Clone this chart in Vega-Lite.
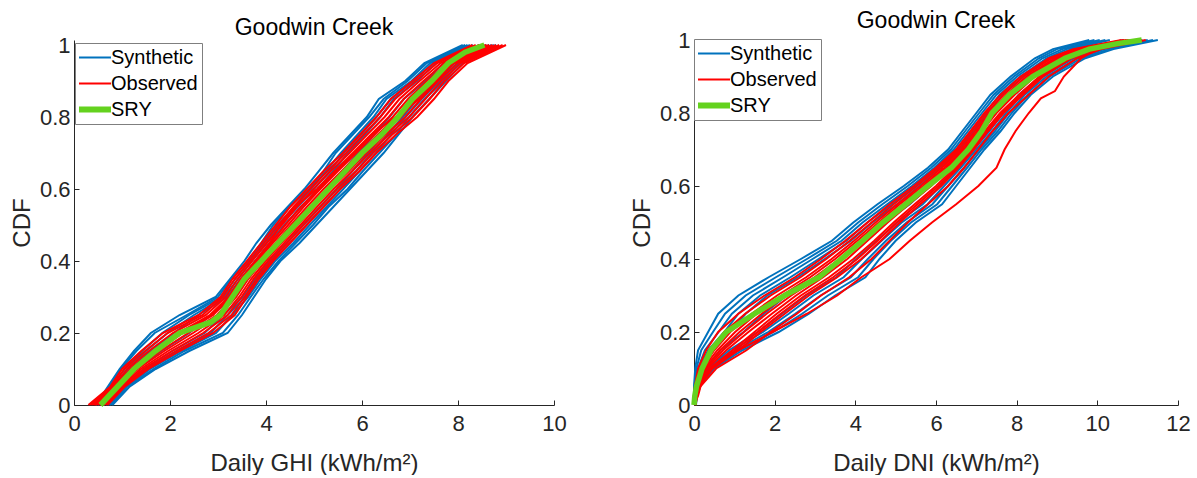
{
"$schema": "https://vega.github.io/schema/vega-lite/v6.json",
"background": "white",
"padding": {"left": 10, "top": 10, "right": 5, "bottom": 0},
"spacing": 63,
"config": {
  "font": "Liberation Sans",
  "view": {"stroke": null},
  "axis": {"grid": false, "domainColor": "#262626", "tickColor": "#262626", "labelColor": "#262626", "titleColor": "#262626", "labelFont": "Liberation Sans", "titleFont": "Liberation Sans", "labelFontSize": 22, "titleFontSize": 24, "titleFontWeight": "normal", "tickSize": -5, "domainWidth": 1, "tickWidth": 1, "labelFlush": false, "labelOverlap": false},
  "title": {"fontSize": 23, "fontWeight": "normal", "color": "#000000", "font": "Liberation Sans", "offset": -4},
  "legend": {"title": null, "orient": "none", "fillColor": "white", "strokeColor": "#7f7f7f", "padding": 4, "symbolType": "stroke", "symbolSize": 1024, "symbolStrokeWidth": 2, "labelFontSize": 20, "labelFont": "Liberation Sans", "labelColor": "#000000", "labelOffset": 3, "rowPadding": 5, "clipHeight": 21}
},
"resolve": {"scale": {"color": "independent"}, "legend": {"color": "independent"}},
"hconcat": [
{
  "width": 480, "height": 365,
  "title": {"text": "Goodwin Creek", "dy": 2},
  "encoding": {
    "x": {"field": "x", "type": "quantitative", "scale": {"domain": [0, 10], "nice": false}, "axis": {"values": [0,2,4,6,8,10], "title": "Daily GHI (kWh/m²)", "labelPadding": 13, "titlePadding": 17}},
    "y": {"field": "y", "type": "quantitative", "scale": {"domain": [0, 1.0139], "nice": false}, "axis": {"values": [0,0.2,0.4,0.6,0.8,1], "format": "~g", "title": "CDF", "labelPadding": 9, "titlePadding": 5}},
    "detail": {"field": "k"},
    "order": {"field": "y"}
  },
  "layer": [
    {"data": {"values": [
{"k":"b1","x":0.45,"y":0},{"k":"b1","x":0.7,"y":0.05},{"k":"b1","x":0.95,"y":0.1},{"k":"b1","x":1.25,"y":0.15},{"k":"b1","x":1.6,"y":0.2},{"k":"b1","x":2.2,"y":0.25},{"k":"b1","x":2.95,"y":0.3},{"k":"b1","x":3.25,"y":0.35},{"k":"b1","x":3.55,"y":0.4},{"k":"b1","x":3.8,"y":0.45},{"k":"b1","x":4.1,"y":0.5},{"k":"b1","x":4.45,"y":0.55},{"k":"b1","x":4.8,"y":0.6},{"k":"b1","x":5.1,"y":0.65},{"k":"b1","x":5.4,"y":0.7},{"k":"b1","x":5.75,"y":0.75},{"k":"b1","x":6.1,"y":0.8},{"k":"b1","x":6.35,"y":0.85},{"k":"b1","x":6.9,"y":0.9},{"k":"b1","x":7.3,"y":0.95},{"k":"b1","x":8.1,"y":1},
{"k":"b2","x":0.5,"y":0},{"k":"b2","x":0.77,"y":0.05},{"k":"b2","x":1.06,"y":0.1},{"k":"b2","x":1.42,"y":0.15},{"k":"b2","x":1.84,"y":0.2},{"k":"b2","x":2.4,"y":0.25},{"k":"b2","x":3.07,"y":0.3},{"k":"b2","x":3.36,"y":0.35},{"k":"b2","x":3.66,"y":0.4},{"k":"b2","x":3.94,"y":0.45},{"k":"b2","x":4.24,"y":0.5},{"k":"b2","x":4.59,"y":0.55},{"k":"b2","x":4.94,"y":0.6},{"k":"b2","x":5.25,"y":0.65},{"k":"b2","x":5.56,"y":0.7},{"k":"b2","x":5.9,"y":0.75},{"k":"b2","x":6.24,"y":0.8},{"k":"b2","x":6.51,"y":0.85},{"k":"b2","x":7.03,"y":0.9},{"k":"b2","x":7.42,"y":0.95},{"k":"b2","x":8.2,"y":1},
{"k":"b3","x":0.55,"y":0},{"k":"b3","x":0.83,"y":0.05},{"k":"b3","x":1.17,"y":0.1},{"k":"b3","x":1.6,"y":0.15},{"k":"b3","x":2.08,"y":0.2},{"k":"b3","x":2.59,"y":0.25},{"k":"b3","x":3.19,"y":0.3},{"k":"b3","x":3.47,"y":0.35},{"k":"b3","x":3.77,"y":0.4},{"k":"b3","x":4.07,"y":0.45},{"k":"b3","x":4.38,"y":0.5},{"k":"b3","x":4.73,"y":0.55},{"k":"b3","x":5.08,"y":0.6},{"k":"b3","x":5.4,"y":0.65},{"k":"b3","x":5.71,"y":0.7},{"k":"b3","x":6.05,"y":0.75},{"k":"b3","x":6.38,"y":0.8},{"k":"b3","x":6.66,"y":0.85},{"k":"b3","x":7.15,"y":0.9},{"k":"b3","x":7.54,"y":0.95},{"k":"b3","x":8.31,"y":1},
{"k":"b4","x":0.62,"y":0},{"k":"b4","x":0.92,"y":0.05},{"k":"b4","x":1.32,"y":0.1},{"k":"b4","x":1.82,"y":0.15},{"k":"b4","x":2.4,"y":0.2},{"k":"b4","x":2.85,"y":0.25},{"k":"b4","x":3.35,"y":0.3},{"k":"b4","x":3.62,"y":0.35},{"k":"b4","x":3.92,"y":0.4},{"k":"b4","x":4.25,"y":0.45},{"k":"b4","x":4.57,"y":0.5},{"k":"b4","x":4.92,"y":0.55},{"k":"b4","x":5.27,"y":0.6},{"k":"b4","x":5.6,"y":0.65},{"k":"b4","x":5.92,"y":0.7},{"k":"b4","x":6.25,"y":0.75},{"k":"b4","x":6.57,"y":0.8},{"k":"b4","x":6.87,"y":0.85},{"k":"b4","x":7.32,"y":0.9},{"k":"b4","x":7.7,"y":0.95},{"k":"b4","x":8.45,"y":1},
{"k":"b5","x":0.69,"y":0},{"k":"b5","x":1.01,"y":0.05},{"k":"b5","x":1.47,"y":0.1},{"k":"b5","x":2.05,"y":0.15},{"k":"b5","x":2.72,"y":0.2},{"k":"b5","x":3.11,"y":0.25},{"k":"b5","x":3.51,"y":0.3},{"k":"b5","x":3.77,"y":0.35},{"k":"b5","x":4.07,"y":0.4},{"k":"b5","x":4.43,"y":0.45},{"k":"b5","x":4.77,"y":0.5},{"k":"b5","x":5.12,"y":0.55},{"k":"b5","x":5.47,"y":0.6},{"k":"b5","x":5.8,"y":0.65},{"k":"b5","x":6.13,"y":0.7},{"k":"b5","x":6.45,"y":0.75},{"k":"b5","x":6.77,"y":0.8},{"k":"b5","x":7.08,"y":0.85},{"k":"b5","x":7.5,"y":0.9},{"k":"b5","x":7.86,"y":0.95},{"k":"b5","x":8.59,"y":1},
{"k":"b6","x":0.75,"y":0},{"k":"b6","x":1.08,"y":0.05},{"k":"b6","x":1.59,"y":0.1},{"k":"b6","x":2.23,"y":0.15},{"k":"b6","x":2.96,"y":0.2},{"k":"b6","x":3.3,"y":0.25},{"k":"b6","x":3.63,"y":0.3},{"k":"b6","x":3.89,"y":0.35},{"k":"b6","x":4.19,"y":0.4},{"k":"b6","x":4.57,"y":0.45},{"k":"b6","x":4.91,"y":0.5},{"k":"b6","x":5.26,"y":0.55},{"k":"b6","x":5.61,"y":0.6},{"k":"b6","x":5.95,"y":0.65},{"k":"b6","x":6.29,"y":0.7},{"k":"b6","x":6.6,"y":0.75},{"k":"b6","x":6.91,"y":0.8},{"k":"b6","x":7.24,"y":0.85},{"k":"b6","x":7.62,"y":0.9},{"k":"b6","x":7.98,"y":0.95},{"k":"b6","x":8.7,"y":1},
{"k":"b7","x":0.8,"y":0},{"k":"b7","x":1.15,"y":0.05},{"k":"b7","x":1.7,"y":0.1},{"k":"b7","x":2.4,"y":0.15},{"k":"b7","x":3.2,"y":0.2},{"k":"b7","x":3.5,"y":0.25},{"k":"b7","x":3.75,"y":0.3},{"k":"b7","x":4.0,"y":0.35},{"k":"b7","x":4.3,"y":0.4},{"k":"b7","x":4.7,"y":0.45},{"k":"b7","x":5.05,"y":0.5},{"k":"b7","x":5.4,"y":0.55},{"k":"b7","x":5.75,"y":0.6},{"k":"b7","x":6.1,"y":0.65},{"k":"b7","x":6.45,"y":0.7},{"k":"b7","x":6.75,"y":0.75},{"k":"b7","x":7.05,"y":0.8},{"k":"b7","x":7.4,"y":0.85},{"k":"b7","x":7.75,"y":0.9},{"k":"b7","x":8.1,"y":0.95},{"k":"b7","x":8.8,"y":1},
{"k":"b8","x":0.47,"y":0},{"k":"b8","x":0.72,"y":0.05},{"k":"b8","x":0.98,"y":0.1},{"k":"b8","x":1.3,"y":0.15},{"k":"b8","x":1.68,"y":0.2},{"k":"b8","x":2.35,"y":0.25},{"k":"b8","x":3.0,"y":0.3},{"k":"b8","x":3.28,"y":0.35},{"k":"b8","x":3.62,"y":0.4},{"k":"b8","x":3.9,"y":0.45},{"k":"b8","x":4.15,"y":0.5},{"k":"b8","x":4.48,"y":0.55},{"k":"b8","x":4.9,"y":0.6},{"k":"b8","x":5.2,"y":0.65},{"k":"b8","x":5.45,"y":0.7},{"k":"b8","x":5.8,"y":0.75},{"k":"b8","x":6.15,"y":0.8},{"k":"b8","x":6.45,"y":0.85},{"k":"b8","x":6.95,"y":0.9},{"k":"b8","x":7.35,"y":0.95},{"k":"b8","x":8.15,"y":1},
{"k":"b9","x":0.78,"y":0},{"k":"b9","x":1.1,"y":0.05},{"k":"b9","x":1.66,"y":0.1},{"k":"b9","x":2.3,"y":0.15},{"k":"b9","x":3.1,"y":0.2},{"k":"b9","x":3.42,"y":0.25},{"k":"b9","x":3.68,"y":0.3},{"k":"b9","x":3.95,"y":0.35},{"k":"b9","x":4.26,"y":0.4},{"k":"b9","x":4.62,"y":0.45},{"k":"b9","x":4.98,"y":0.5},{"k":"b9","x":5.3,"y":0.55},{"k":"b9","x":5.7,"y":0.6},{"k":"b9","x":6.02,"y":0.65},{"k":"b9","x":6.36,"y":0.7},{"k":"b9","x":6.7,"y":0.75},{"k":"b9","x":6.98,"y":0.8},{"k":"b9","x":7.3,"y":0.85},{"k":"b9","x":7.7,"y":0.9},{"k":"b9","x":8.02,"y":0.95},{"k":"b9","x":8.75,"y":1},
{"k":"b10","x":0.52,"y":0},{"k":"b10","x":0.8,"y":0.05},{"k":"b10","x":1.12,"y":0.1},{"k":"b10","x":1.5,"y":0.15},{"k":"b10","x":1.95,"y":0.2},{"k":"b10","x":2.5,"y":0.25},{"k":"b10","x":3.12,"y":0.3},{"k":"b10","x":3.42,"y":0.35},{"k":"b10","x":3.7,"y":0.4},{"k":"b10","x":4.0,"y":0.45},{"k":"b10","x":4.3,"y":0.5},{"k":"b10","x":4.66,"y":0.55},{"k":"b10","x":5.0,"y":0.6},{"k":"b10","x":5.33,"y":0.65},{"k":"b10","x":5.62,"y":0.7},{"k":"b10","x":5.97,"y":0.75},{"k":"b10","x":6.3,"y":0.8},{"k":"b10","x":6.6,"y":0.85},{"k":"b10","x":7.08,"y":0.9},{"k":"b10","x":7.48,"y":0.95},{"k":"b10","x":8.25,"y":1},
{"k":"b11","x":0.72,"y":0},{"k":"b11","x":1.05,"y":0.05},{"k":"b11","x":1.52,"y":0.1},{"k":"b11","x":2.15,"y":0.15},{"k":"b11","x":2.85,"y":0.2},{"k":"b11","x":3.2,"y":0.25},{"k":"b11","x":3.57,"y":0.3},{"k":"b11","x":3.83,"y":0.35},{"k":"b11","x":4.13,"y":0.4},{"k":"b11","x":4.5,"y":0.45},{"k":"b11","x":4.84,"y":0.5},{"k":"b11","x":5.19,"y":0.55},{"k":"b11","x":5.54,"y":0.6},{"k":"b11","x":5.88,"y":0.65},{"k":"b11","x":6.2,"y":0.7},{"k":"b11","x":6.53,"y":0.75},{"k":"b11","x":6.85,"y":0.8},{"k":"b11","x":7.16,"y":0.85},{"k":"b11","x":7.56,"y":0.9},{"k":"b11","x":7.92,"y":0.95},{"k":"b11","x":8.65,"y":1}
    ]},
     "mark": {"type": "line", "strokeWidth": 2},
     "encoding": {"color": {"datum": "Synthetic", "type": "nominal", "scale": {"domain": ["Synthetic", "Observed", "SRY"], "range": ["#0072BD", "#FF0000", "#64D21E"]}, "legend": {"legendX": 1, "legendY": 3, "labelOffset": 12, "encode": {"symbols": {"update": {"size": {"value": 1024}, "x": {"value": 16}, "strokeWidth": {"signal": "datum.value === 'SRY' ? 6 : 2"}}}}}}}
    },
    {"data": {"values": [
{"k":"r1","x":0.3,"y":0},{"k":"r1","x":0.75,"y":0.05},{"k":"r1","x":1.0,"y":0.1},{"k":"r1","x":1.4,"y":0.15},{"k":"r1","x":1.85,"y":0.2},{"k":"r1","x":2.6,"y":0.25},{"k":"r1","x":3.05,"y":0.3},{"k":"r1","x":3.3,"y":0.35},{"k":"r1","x":3.6,"y":0.4},{"k":"r1","x":3.9,"y":0.45},{"k":"r1","x":4.2,"y":0.5},{"k":"r1","x":4.5,"y":0.55},{"k":"r1","x":4.85,"y":0.6},{"k":"r1","x":5.2,"y":0.65},{"k":"r1","x":5.6,"y":0.7},{"k":"r1","x":5.95,"y":0.75},{"k":"r1","x":6.3,"y":0.8},{"k":"r1","x":6.6,"y":0.85},{"k":"r1","x":7.05,"y":0.9},{"k":"r1","x":7.5,"y":0.95},{"k":"r1","x":8.3,"y":1},
{"k":"r2","x":0.38,"y":0},{"k":"r2","x":0.81,"y":0.05},{"k":"r2","x":1.11,"y":0.1},{"k":"r2","x":1.56,"y":0.15},{"k":"r2","x":2.06,"y":0.2},{"k":"r2","x":2.75,"y":0.25},{"k":"r2","x":3.16,"y":0.3},{"k":"r2","x":3.41,"y":0.35},{"k":"r2","x":3.71,"y":0.4},{"k":"r2","x":4.02,"y":0.45},{"k":"r2","x":4.33,"y":0.5},{"k":"r2","x":4.64,"y":0.55},{"k":"r2","x":4.99,"y":0.6},{"k":"r2","x":5.35,"y":0.65},{"k":"r2","x":5.74,"y":0.7},{"k":"r2","x":6.1,"y":0.75},{"k":"r2","x":6.47,"y":0.8},{"k":"r2","x":6.78,"y":0.85},{"k":"r2","x":7.2,"y":0.9},{"k":"r2","x":7.64,"y":0.95},{"k":"r2","x":8.44,"y":1},
{"k":"r3","x":0.46,"y":0},{"k":"r3","x":0.87,"y":0.05},{"k":"r3","x":1.22,"y":0.1},{"k":"r3","x":1.72,"y":0.15},{"k":"r3","x":2.27,"y":0.2},{"k":"r3","x":2.9,"y":0.25},{"k":"r3","x":3.27,"y":0.3},{"k":"r3","x":3.52,"y":0.35},{"k":"r3","x":3.82,"y":0.4},{"k":"r3","x":4.14,"y":0.45},{"k":"r3","x":4.46,"y":0.5},{"k":"r3","x":4.78,"y":0.55},{"k":"r3","x":5.13,"y":0.6},{"k":"r3","x":5.5,"y":0.65},{"k":"r3","x":5.88,"y":0.7},{"k":"r3","x":6.25,"y":0.75},{"k":"r3","x":6.64,"y":0.8},{"k":"r3","x":6.96,"y":0.85},{"k":"r3","x":7.35,"y":0.9},{"k":"r3","x":7.78,"y":0.95},{"k":"r3","x":8.58,"y":1},
{"k":"r4","x":0.54,"y":0},{"k":"r4","x":0.93,"y":0.05},{"k":"r4","x":1.33,"y":0.1},{"k":"r4","x":1.88,"y":0.15},{"k":"r4","x":2.48,"y":0.2},{"k":"r4","x":3.05,"y":0.25},{"k":"r4","x":3.38,"y":0.3},{"k":"r4","x":3.63,"y":0.35},{"k":"r4","x":3.93,"y":0.4},{"k":"r4","x":4.26,"y":0.45},{"k":"r4","x":4.59,"y":0.5},{"k":"r4","x":4.92,"y":0.55},{"k":"r4","x":5.27,"y":0.6},{"k":"r4","x":5.65,"y":0.65},{"k":"r4","x":6.02,"y":0.7},{"k":"r4","x":6.4,"y":0.75},{"k":"r4","x":6.81,"y":0.8},{"k":"r4","x":7.14,"y":0.85},{"k":"r4","x":7.5,"y":0.9},{"k":"r4","x":7.92,"y":0.95},{"k":"r4","x":8.72,"y":1},
{"k":"r5","x":0.62,"y":0},{"k":"r5","x":0.99,"y":0.05},{"k":"r5","x":1.44,"y":0.1},{"k":"r5","x":2.04,"y":0.15},{"k":"r5","x":2.69,"y":0.2},{"k":"r5","x":3.2,"y":0.25},{"k":"r5","x":3.49,"y":0.3},{"k":"r5","x":3.74,"y":0.35},{"k":"r5","x":4.04,"y":0.4},{"k":"r5","x":4.38,"y":0.45},{"k":"r5","x":4.72,"y":0.5},{"k":"r5","x":5.06,"y":0.55},{"k":"r5","x":5.41,"y":0.6},{"k":"r5","x":5.8,"y":0.65},{"k":"r5","x":6.16,"y":0.7},{"k":"r5","x":6.55,"y":0.75},{"k":"r5","x":6.98,"y":0.8},{"k":"r5","x":7.32,"y":0.85},{"k":"r5","x":7.65,"y":0.9},{"k":"r5","x":8.06,"y":0.95},{"k":"r5","x":8.86,"y":1},
{"k":"r6","x":0.7,"y":0},{"k":"r6","x":1.05,"y":0.05},{"k":"r6","x":1.55,"y":0.1},{"k":"r6","x":2.2,"y":0.15},{"k":"r6","x":2.9,"y":0.2},{"k":"r6","x":3.35,"y":0.25},{"k":"r6","x":3.6,"y":0.3},{"k":"r6","x":3.85,"y":0.35},{"k":"r6","x":4.15,"y":0.4},{"k":"r6","x":4.5,"y":0.45},{"k":"r6","x":4.85,"y":0.5},{"k":"r6","x":5.2,"y":0.55},{"k":"r6","x":5.55,"y":0.6},{"k":"r6","x":5.95,"y":0.65},{"k":"r6","x":6.3,"y":0.7},{"k":"r6","x":6.7,"y":0.75},{"k":"r6","x":7.15,"y":0.8},{"k":"r6","x":7.5,"y":0.85},{"k":"r6","x":7.8,"y":0.9},{"k":"r6","x":8.2,"y":0.95},{"k":"r6","x":9.0,"y":1},
{"k":"r7","x":0.42,"y":0},{"k":"r7","x":0.84,"y":0.05},{"k":"r7","x":1.17,"y":0.1},{"k":"r7","x":1.64,"y":0.15},{"k":"r7","x":2.17,"y":0.2},{"k":"r7","x":2.83,"y":0.25},{"k":"r7","x":3.22,"y":0.3},{"k":"r7","x":3.47,"y":0.35},{"k":"r7","x":3.77,"y":0.4},{"k":"r7","x":4.08,"y":0.45},{"k":"r7","x":4.3,"y":0.5},{"k":"r7","x":4.6,"y":0.55},{"k":"r7","x":5.06,"y":0.6},{"k":"r7","x":5.43,"y":0.65},{"k":"r7","x":5.81,"y":0.7},{"k":"r7","x":6.18,"y":0.75},{"k":"r7","x":6.56,"y":0.8},{"k":"r7","x":6.87,"y":0.85},{"k":"r7","x":7.28,"y":0.9},{"k":"r7","x":7.71,"y":0.95},{"k":"r7","x":8.51,"y":1},
{"k":"r8","x":0.58,"y":0},{"k":"r8","x":0.96,"y":0.05},{"k":"r8","x":1.39,"y":0.1},{"k":"r8","x":1.96,"y":0.15},{"k":"r8","x":2.59,"y":0.2},{"k":"r8","x":3.13,"y":0.25},{"k":"r8","x":3.44,"y":0.3},{"k":"r8","x":3.69,"y":0.35},{"k":"r8","x":3.99,"y":0.4},{"k":"r8","x":4.32,"y":0.45},{"k":"r8","x":4.66,"y":0.5},{"k":"r8","x":4.99,"y":0.55},{"k":"r8","x":5.34,"y":0.6},{"k":"r8","x":5.73,"y":0.65},{"k":"r8","x":6.09,"y":0.7},{"k":"r8","x":6.48,"y":0.75},{"k":"r8","x":6.9,"y":0.8},{"k":"r8","x":7.23,"y":0.85},{"k":"r8","x":7.58,"y":0.9},{"k":"r8","x":7.99,"y":0.95},{"k":"r8","x":8.79,"y":1},
{"k":"r9","x":0.34,"y":0},{"k":"r9","x":0.78,"y":0.05},{"k":"r9","x":1.05,"y":0.1},{"k":"r9","x":1.48,"y":0.15},{"k":"r9","x":1.95,"y":0.2},{"k":"r9","x":2.68,"y":0.25},{"k":"r9","x":3.1,"y":0.3},{"k":"r9","x":3.35,"y":0.35},{"k":"r9","x":3.66,"y":0.4},{"k":"r9","x":3.96,"y":0.45},{"k":"r9","x":4.26,"y":0.5},{"k":"r9","x":4.57,"y":0.55},{"k":"r9","x":4.92,"y":0.6},{"k":"r9","x":5.28,"y":0.65},{"k":"r9","x":5.67,"y":0.7},{"k":"r9","x":6.02,"y":0.75},{"k":"r9","x":6.38,"y":0.8},{"k":"r9","x":6.69,"y":0.85},{"k":"r9","x":7.12,"y":0.9},{"k":"r9","x":7.57,"y":0.95},{"k":"r9","x":8.37,"y":1},
{"k":"r10","x":0.66,"y":0},{"k":"r10","x":1.02,"y":0.05},{"k":"r10","x":1.5,"y":0.1},{"k":"r10","x":2.12,"y":0.15},{"k":"r10","x":2.8,"y":0.2},{"k":"r10","x":3.28,"y":0.25},{"k":"r10","x":3.55,"y":0.3},{"k":"r10","x":3.8,"y":0.35},{"k":"r10","x":4.1,"y":0.4},{"k":"r10","x":4.44,"y":0.45},{"k":"r10","x":4.78,"y":0.5},{"k":"r10","x":5.13,"y":0.55},{"k":"r10","x":5.48,"y":0.6},{"k":"r10","x":5.88,"y":0.65},{"k":"r10","x":6.23,"y":0.7},{"k":"r10","x":6.62,"y":0.75},{"k":"r10","x":7.06,"y":0.8},{"k":"r10","x":7.41,"y":0.85},{"k":"r10","x":7.72,"y":0.9},{"k":"r10","x":8.13,"y":0.95},{"k":"r10","x":8.93,"y":1},
{"k":"r11","x":0.5,"y":0},{"k":"r11","x":0.9,"y":0.05},{"k":"r11","x":1.28,"y":0.1},{"k":"r11","x":1.8,"y":0.15},{"k":"r11","x":2.38,"y":0.2},{"k":"r11","x":2.98,"y":0.25},{"k":"r11","x":3.32,"y":0.3},{"k":"r11","x":3.58,"y":0.35},{"k":"r11","x":3.88,"y":0.4},{"k":"r11","x":4.2,"y":0.45},{"k":"r11","x":4.52,"y":0.5},{"k":"r11","x":4.85,"y":0.55},{"k":"r11","x":5.2,"y":0.6},{"k":"r11","x":5.58,"y":0.65},{"k":"r11","x":5.95,"y":0.7},{"k":"r11","x":6.32,"y":0.75},{"k":"r11","x":6.72,"y":0.8},{"k":"r11","x":7.05,"y":0.85},{"k":"r11","x":7.42,"y":0.9},{"k":"r11","x":7.85,"y":0.95},{"k":"r11","x":8.65,"y":1},
{"k":"r12","x":0.44,"y":0},{"k":"r12","x":0.86,"y":0.05},{"k":"r12","x":1.2,"y":0.1},{"k":"r12","x":1.68,"y":0.15},{"k":"r12","x":2.22,"y":0.2},{"k":"r12","x":2.86,"y":0.25},{"k":"r12","x":3.25,"y":0.3},{"k":"r12","x":3.5,"y":0.35},{"k":"r12","x":3.8,"y":0.4},{"k":"r12","x":4.1,"y":0.45},{"k":"r12","x":4.4,"y":0.5},{"k":"r12","x":4.72,"y":0.55},{"k":"r12","x":5.1,"y":0.6},{"k":"r12","x":5.47,"y":0.65},{"k":"r12","x":5.85,"y":0.7},{"k":"r12","x":6.2,"y":0.75},{"k":"r12","x":6.7,"y":0.8},{"k":"r12","x":7.2,"y":0.85},{"k":"r12","x":7.55,"y":0.9},{"k":"r12","x":7.9,"y":0.95},{"k":"r12","x":8.6,"y":1}
    ]},
     "mark": {"type": "line", "strokeWidth": 2},
     "encoding": {"color": {"datum": "Observed", "type": "nominal"}}
    },
    {"data": {"values": [
{"k":"g","x":0.55,"y":0},{"k":"g","x":0.9,"y":0.05},{"k":"g","x":1.25,"y":0.1},{"k":"g","x":1.7,"y":0.15},{"k":"g","x":2.2,"y":0.2},{"k":"g","x":2.85,"y":0.23},{"k":"g","x":3.05,"y":0.25},{"k":"g","x":3.3,"y":0.3},{"k":"g","x":3.55,"y":0.35},{"k":"g","x":3.9,"y":0.4},{"k":"g","x":4.25,"y":0.45},{"k":"g","x":4.6,"y":0.5},{"k":"g","x":4.95,"y":0.55},{"k":"g","x":5.3,"y":0.6},{"k":"g","x":5.65,"y":0.65},{"k":"g","x":6.0,"y":0.7},{"k":"g","x":6.4,"y":0.75},{"k":"g","x":6.75,"y":0.8},{"k":"g","x":7.05,"y":0.85},{"k":"g","x":7.45,"y":0.9},{"k":"g","x":7.8,"y":0.95},{"k":"g","x":8.15,"y":0.98},{"k":"g","x":8.55,"y":1}
    ]},
     "mark": {"type": "line", "strokeWidth": 5.5},
     "encoding": {"color": {"datum": "SRY", "type": "nominal"}}
    }
  ]
},
{
  "width": 484, "height": 365,
  "title": {"text": "Goodwin Creek"},
  "encoding": {
    "x": {"field": "x", "type": "quantitative", "scale": {"domain": [0, 12], "nice": false}, "axis": {"values": [0,2,4,6,8,10,12], "title": "Daily DNI (kWh/m²)", "labelPadding": 13, "titlePadding": 17}},
    "y": {"field": "y", "type": "quantitative", "scale": {"domain": [0, 1], "nice": false}, "axis": {"values": [0,0.2,0.4,0.6,0.8,1], "format": "~g", "title": "CDF", "labelPadding": 9, "titlePadding": 5}},
    "detail": {"field": "k"},
    "order": {"field": "y"}
  },
  "layer": [
    {"data": {"values": [
{"k":"b1","x":0,"y":0},{"k":"b1","x":0,"y":0.025},{"k":"b1","x":0,"y":0.05},{"k":"b1","x":0.03,"y":0.1},{"k":"b1","x":0.1,"y":0.15},{"k":"b1","x":0.35,"y":0.2},{"k":"b1","x":0.6,"y":0.25},{"k":"b1","x":1.1,"y":0.3},{"k":"b1","x":1.85,"y":0.35},{"k":"b1","x":2.65,"y":0.4},{"k":"b1","x":3.42,"y":0.45},{"k":"b1","x":3.95,"y":0.5},{"k":"b1","x":4.55,"y":0.55},{"k":"b1","x":5.2,"y":0.6},{"k":"b1","x":5.8,"y":0.65},{"k":"b1","x":6.3,"y":0.7},{"k":"b1","x":6.65,"y":0.75},{"k":"b1","x":7.0,"y":0.8},{"k":"b1","x":7.35,"y":0.85},{"k":"b1","x":7.85,"y":0.9},{"k":"b1","x":8.45,"y":0.95},{"k":"b1","x":8.9,"y":0.975},{"k":"b1","x":9.8,"y":1},
{"k":"b2","x":0.01,"y":0},{"k":"b2","x":0.01,"y":0.025},{"k":"b2","x":0.02,"y":0.05},{"k":"b2","x":0.1,"y":0.1},{"k":"b2","x":0.27,"y":0.15},{"k":"b2","x":0.61,"y":0.2},{"k":"b2","x":0.94,"y":0.25},{"k":"b2","x":1.46,"y":0.3},{"k":"b2","x":2.21,"y":0.35},{"k":"b2","x":2.94,"y":0.4},{"k":"b2","x":3.66,"y":0.45},{"k":"b2","x":4.18,"y":0.5},{"k":"b2","x":4.79,"y":0.55},{"k":"b2","x":5.4,"y":0.6},{"k":"b2","x":5.96,"y":0.65},{"k":"b2","x":6.44,"y":0.7},{"k":"b2","x":6.79,"y":0.75},{"k":"b2","x":7.14,"y":0.8},{"k":"b2","x":7.5,"y":0.85},{"k":"b2","x":8.01,"y":0.9},{"k":"b2","x":8.64,"y":0.95},{"k":"b2","x":9.13,"y":0.975},{"k":"b2","x":10.06,"y":1},
{"k":"b3","x":0.02,"y":0},{"k":"b3","x":0.02,"y":0.025},{"k":"b3","x":0.03,"y":0.05},{"k":"b3","x":0.17,"y":0.1},{"k":"b3","x":0.43,"y":0.15},{"k":"b3","x":0.88,"y":0.2},{"k":"b3","x":1.28,"y":0.25},{"k":"b3","x":1.82,"y":0.3},{"k":"b3","x":2.57,"y":0.35},{"k":"b3","x":3.24,"y":0.4},{"k":"b3","x":3.89,"y":0.45},{"k":"b3","x":4.42,"y":0.5},{"k":"b3","x":5.03,"y":0.55},{"k":"b3","x":5.59,"y":0.6},{"k":"b3","x":6.12,"y":0.65},{"k":"b3","x":6.57,"y":0.7},{"k":"b3","x":6.94,"y":0.75},{"k":"b3","x":7.29,"y":0.8},{"k":"b3","x":7.65,"y":0.85},{"k":"b3","x":8.17,"y":0.9},{"k":"b3","x":8.83,"y":0.95},{"k":"b3","x":9.35,"y":0.975},{"k":"b3","x":10.31,"y":1},
{"k":"b4","x":0.03,"y":0},{"k":"b4","x":0.04,"y":0.025},{"k":"b4","x":0.05,"y":0.05},{"k":"b4","x":0.27,"y":0.1},{"k":"b4","x":0.65,"y":0.15},{"k":"b4","x":1.23,"y":0.2},{"k":"b4","x":1.73,"y":0.25},{"k":"b4","x":2.3,"y":0.3},{"k":"b4","x":3.05,"y":0.35},{"k":"b4","x":3.63,"y":0.4},{"k":"b4","x":4.21,"y":0.45},{"k":"b4","x":4.73,"y":0.5},{"k":"b4","x":5.35,"y":0.55},{"k":"b4","x":5.85,"y":0.6},{"k":"b4","x":6.33,"y":0.65},{"k":"b4","x":6.75,"y":0.7},{"k":"b4","x":7.13,"y":0.75},{"k":"b4","x":7.48,"y":0.8},{"k":"b4","x":7.85,"y":0.85},{"k":"b4","x":8.38,"y":0.9},{"k":"b4","x":9.08,"y":0.95},{"k":"b4","x":9.65,"y":0.975},{"k":"b4","x":10.65,"y":1},
{"k":"b5","x":0.035,"y":0},{"k":"b5","x":0.05,"y":0.025},{"k":"b5","x":0.07,"y":0.05},{"k":"b5","x":0.36,"y":0.1},{"k":"b5","x":0.87,"y":0.15},{"k":"b5","x":1.58,"y":0.2},{"k":"b5","x":2.18,"y":0.25},{"k":"b5","x":2.78,"y":0.3},{"k":"b5","x":3.53,"y":0.35},{"k":"b5","x":4.02,"y":0.4},{"k":"b5","x":4.53,"y":0.45},{"k":"b5","x":5.04,"y":0.5},{"k":"b5","x":5.67,"y":0.55},{"k":"b5","x":6.11,"y":0.6},{"k":"b5","x":6.54,"y":0.65},{"k":"b5","x":6.93,"y":0.7},{"k":"b5","x":7.32,"y":0.75},{"k":"b5","x":7.67,"y":0.8},{"k":"b5","x":8.05,"y":0.85},{"k":"b5","x":8.59,"y":0.9},{"k":"b5","x":9.33,"y":0.95},{"k":"b5","x":9.95,"y":0.975},{"k":"b5","x":10.99,"y":1},
{"k":"b6","x":0.04,"y":0},{"k":"b6","x":0.06,"y":0.025},{"k":"b6","x":0.085,"y":0.05},{"k":"b6","x":0.43,"y":0.1},{"k":"b6","x":1.04,"y":0.15},{"k":"b6","x":1.84,"y":0.2},{"k":"b6","x":2.51,"y":0.25},{"k":"b6","x":3.14,"y":0.3},{"k":"b6","x":3.89,"y":0.35},{"k":"b6","x":4.31,"y":0.4},{"k":"b6","x":4.76,"y":0.45},{"k":"b6","x":5.27,"y":0.5},{"k":"b6","x":5.91,"y":0.55},{"k":"b6","x":6.3,"y":0.6},{"k":"b6","x":6.69,"y":0.65},{"k":"b6","x":7.07,"y":0.7},{"k":"b6","x":7.46,"y":0.75},{"k":"b6","x":7.81,"y":0.8},{"k":"b6","x":8.2,"y":0.85},{"k":"b6","x":8.74,"y":0.9},{"k":"b6","x":9.51,"y":0.95},{"k":"b6","x":10.18,"y":0.975},{"k":"b6","x":11.25,"y":1},
{"k":"b7","x":0.05,"y":0},{"k":"b7","x":0.07,"y":0.025},{"k":"b7","x":0.1,"y":0.05},{"k":"b7","x":0.5,"y":0.1},{"k":"b7","x":1.2,"y":0.15},{"k":"b7","x":2.1,"y":0.2},{"k":"b7","x":2.85,"y":0.25},{"k":"b7","x":3.5,"y":0.3},{"k":"b7","x":4.25,"y":0.35},{"k":"b7","x":4.6,"y":0.4},{"k":"b7","x":5.0,"y":0.45},{"k":"b7","x":5.5,"y":0.5},{"k":"b7","x":6.15,"y":0.55},{"k":"b7","x":6.5,"y":0.6},{"k":"b7","x":6.85,"y":0.65},{"k":"b7","x":7.2,"y":0.7},{"k":"b7","x":7.6,"y":0.75},{"k":"b7","x":7.95,"y":0.8},{"k":"b7","x":8.35,"y":0.85},{"k":"b7","x":8.9,"y":0.9},{"k":"b7","x":9.7,"y":0.95},{"k":"b7","x":10.4,"y":0.975},{"k":"b7","x":11.5,"y":1},
{"k":"b8","x":0.005,"y":0},{"k":"b8","x":0.005,"y":0.025},{"k":"b8","x":0.01,"y":0.05},{"k":"b8","x":0.06,"y":0.1},{"k":"b8","x":0.18,"y":0.15},{"k":"b8","x":0.47,"y":0.2},{"k":"b8","x":0.77,"y":0.25},{"k":"b8","x":1.28,"y":0.3},{"k":"b8","x":2.03,"y":0.35},{"k":"b8","x":2.8,"y":0.4},{"k":"b8","x":3.54,"y":0.45},{"k":"b8","x":4.07,"y":0.5},{"k":"b8","x":4.67,"y":0.55},{"k":"b8","x":5.3,"y":0.6},{"k":"b8","x":5.88,"y":0.65},{"k":"b8","x":6.37,"y":0.7},{"k":"b8","x":6.72,"y":0.75},{"k":"b8","x":7.07,"y":0.8},{"k":"b8","x":7.43,"y":0.85},{"k":"b8","x":7.93,"y":0.9},{"k":"b8","x":8.55,"y":0.95},{"k":"b8","x":9.0,"y":0.975},{"k":"b8","x":9.93,"y":1},
{"k":"b9","x":0.045,"y":0},{"k":"b9","x":0.065,"y":0.025},{"k":"b9","x":0.09,"y":0.05},{"k":"b9","x":0.47,"y":0.1},{"k":"b9","x":1.12,"y":0.15},{"k":"b9","x":1.97,"y":0.2},{"k":"b9","x":2.68,"y":0.25},{"k":"b9","x":3.32,"y":0.3},{"k":"b9","x":4.07,"y":0.35},{"k":"b9","x":4.45,"y":0.4},{"k":"b9","x":4.88,"y":0.45},{"k":"b9","x":5.38,"y":0.5},{"k":"b9","x":6.03,"y":0.55},{"k":"b9","x":6.4,"y":0.6},{"k":"b9","x":6.77,"y":0.65},{"k":"b9","x":7.13,"y":0.7},{"k":"b9","x":7.53,"y":0.75},{"k":"b9","x":7.88,"y":0.8},{"k":"b9","x":8.28,"y":0.85},{"k":"b9","x":8.82,"y":0.9},{"k":"b9","x":9.6,"y":0.95},{"k":"b9","x":10.3,"y":0.975},{"k":"b9","x":11.38,"y":1},
{"k":"b10","x":0.015,"y":0},{"k":"b10","x":0.015,"y":0.025},{"k":"b10","x":0.025,"y":0.05},{"k":"b10","x":0.13,"y":0.1},{"k":"b10","x":0.35,"y":0.15},{"k":"b10","x":0.75,"y":0.2},{"k":"b10","x":1.1,"y":0.25},{"k":"b10","x":1.64,"y":0.3},{"k":"b10","x":2.39,"y":0.35},{"k":"b10","x":3.09,"y":0.4},{"k":"b10","x":3.78,"y":0.45},{"k":"b10","x":4.3,"y":0.5},{"k":"b10","x":4.91,"y":0.55},{"k":"b10","x":5.5,"y":0.6},{"k":"b10","x":6.04,"y":0.65},{"k":"b10","x":6.5,"y":0.7},{"k":"b10","x":6.86,"y":0.75},{"k":"b10","x":7.22,"y":0.8},{"k":"b10","x":7.58,"y":0.85},{"k":"b10","x":8.09,"y":0.9},{"k":"b10","x":8.74,"y":0.95},{"k":"b10","x":9.24,"y":0.975},{"k":"b10","x":10.2,"y":1},
{"k":"b11","x":0.038,"y":0},{"k":"b11","x":0.055,"y":0.025},{"k":"b11","x":0.078,"y":0.05},{"k":"b11","x":0.4,"y":0.1},{"k":"b11","x":0.95,"y":0.15},{"k":"b11","x":1.71,"y":0.2},{"k":"b11","x":2.35,"y":0.25},{"k":"b11","x":2.96,"y":0.3},{"k":"b11","x":3.71,"y":0.35},{"k":"b11","x":4.16,"y":0.4},{"k":"b11","x":4.65,"y":0.45},{"k":"b11","x":5.15,"y":0.5},{"k":"b11","x":5.79,"y":0.55},{"k":"b11","x":6.2,"y":0.6},{"k":"b11","x":6.61,"y":0.65},{"k":"b11","x":7.0,"y":0.7},{"k":"b11","x":7.39,"y":0.75},{"k":"b11","x":7.74,"y":0.8},{"k":"b11","x":8.12,"y":0.85},{"k":"b11","x":8.66,"y":0.9},{"k":"b11","x":9.42,"y":0.95},{"k":"b11","x":10.06,"y":0.975},{"k":"b11","x":11.12,"y":1}
    ]},
     "mark": {"type": "line", "strokeWidth": 2},
     "encoding": {"color": {"datum": "Synthetic", "type": "nominal", "scale": {"domain": ["Synthetic", "Observed", "SRY"], "range": ["#0072BD", "#FF0000", "#64D21E"]}, "legend": {"legendX": 0, "legendY": -1, "labelOffset": 12, "encode": {"symbols": {"update": {"size": {"value": 1024}, "x": {"value": 16}, "strokeWidth": {"signal": "datum.value === 'SRY' ? 6 : 2"}}}}}}}
    },
    {"data": {"values": [
{"k":"r1","x":0,"y":0},{"k":"r1","x":0.005,"y":0.025},{"k":"r1","x":0.02,"y":0.05},{"k":"r1","x":0.1,"y":0.1},{"k":"r1","x":0.3,"y":0.15},{"k":"r1","x":0.6,"y":0.2},{"k":"r1","x":1.1,"y":0.25},{"k":"r1","x":1.75,"y":0.3},{"k":"r1","x":2.5,"y":0.35},{"k":"r1","x":3.15,"y":0.4},{"k":"r1","x":3.75,"y":0.45},{"k":"r1","x":4.3,"y":0.5},{"k":"r1","x":4.85,"y":0.55},{"k":"r1","x":5.45,"y":0.6},{"k":"r1","x":6.0,"y":0.65},{"k":"r1","x":6.5,"y":0.7},{"k":"r1","x":6.85,"y":0.75},{"k":"r1","x":7.2,"y":0.8},{"k":"r1","x":7.6,"y":0.85},{"k":"r1","x":8.1,"y":0.9},{"k":"r1","x":8.8,"y":0.95},{"k":"r1","x":9.4,"y":0.975},{"k":"r1","x":10.6,"y":1},
{"k":"r2","x":0.01,"y":0},{"k":"r2","x":0.02,"y":0.025},{"k":"r2","x":0.05,"y":0.05},{"k":"r2","x":0.19,"y":0.1},{"k":"r2","x":0.5,"y":0.15},{"k":"r2","x":0.9,"y":0.2},{"k":"r2","x":1.43,"y":0.25},{"k":"r2","x":2.06,"y":0.3},{"k":"r2","x":2.78,"y":0.35},{"k":"r2","x":3.41,"y":0.4},{"k":"r2","x":3.97,"y":0.45},{"k":"r2","x":4.5,"y":0.5},{"k":"r2","x":5.04,"y":0.55},{"k":"r2","x":5.62,"y":0.6},{"k":"r2","x":6.14,"y":0.65},{"k":"r2","x":6.61,"y":0.7},{"k":"r2","x":6.96,"y":0.75},{"k":"r2","x":7.32,"y":0.8},{"k":"r2","x":7.74,"y":0.85},{"k":"r2","x":8.24,"y":0.9},{"k":"r2","x":8.94,"y":0.95},{"k":"r2","x":9.54,"y":0.975},{"k":"r2","x":10.72,"y":1},
{"k":"r3","x":0.014,"y":0},{"k":"r3","x":0.03,"y":0.025},{"k":"r3","x":0.065,"y":0.05},{"k":"r3","x":0.26,"y":0.1},{"k":"r3","x":0.65,"y":0.15},{"k":"r3","x":1.13,"y":0.2},{"k":"r3","x":1.68,"y":0.25},{"k":"r3","x":2.29,"y":0.3},{"k":"r3","x":2.99,"y":0.35},{"k":"r3","x":3.61,"y":0.4},{"k":"r3","x":4.14,"y":0.45},{"k":"r3","x":4.65,"y":0.5},{"k":"r3","x":5.18,"y":0.55},{"k":"r3","x":5.75,"y":0.6},{"k":"r3","x":6.25,"y":0.65},{"k":"r3","x":6.69,"y":0.7},{"k":"r3","x":7.04,"y":0.75},{"k":"r3","x":7.41,"y":0.8},{"k":"r3","x":7.85,"y":0.85},{"k":"r3","x":8.35,"y":0.9},{"k":"r3","x":9.05,"y":0.95},{"k":"r3","x":9.65,"y":0.975},{"k":"r3","x":10.81,"y":1},
{"k":"r4","x":0.02,"y":0},{"k":"r4","x":0.04,"y":0.025},{"k":"r4","x":0.085,"y":0.05},{"k":"r4","x":0.33,"y":0.1},{"k":"r4","x":0.8,"y":0.15},{"k":"r4","x":1.35,"y":0.2},{"k":"r4","x":1.93,"y":0.25},{"k":"r4","x":2.53,"y":0.3},{"k":"r4","x":3.2,"y":0.35},{"k":"r4","x":3.8,"y":0.4},{"k":"r4","x":4.3,"y":0.45},{"k":"r4","x":4.8,"y":0.5},{"k":"r4","x":5.33,"y":0.55},{"k":"r4","x":5.88,"y":0.6},{"k":"r4","x":6.35,"y":0.65},{"k":"r4","x":6.78,"y":0.7},{"k":"r4","x":7.13,"y":0.75},{"k":"r4","x":7.5,"y":0.8},{"k":"r4","x":7.95,"y":0.85},{"k":"r4","x":8.45,"y":0.9},{"k":"r4","x":9.15,"y":0.95},{"k":"r4","x":9.75,"y":0.975},{"k":"r4","x":10.9,"y":1},
{"k":"r5","x":0.026,"y":0},{"k":"r5","x":0.054,"y":0.025},{"k":"r5","x":0.105,"y":0.05},{"k":"r5","x":0.39,"y":0.1},{"k":"r5","x":0.95,"y":0.15},{"k":"r5","x":1.5,"y":0.2},{"k":"r5","x":2.05,"y":0.25},{"k":"r5","x":2.65,"y":0.3},{"k":"r5","x":3.35,"y":0.35},{"k":"r5","x":3.95,"y":0.4},{"k":"r5","x":4.47,"y":0.45},{"k":"r5","x":4.95,"y":0.5},{"k":"r5","x":5.47,"y":0.55},{"k":"r5","x":6.0,"y":0.6},{"k":"r5","x":6.46,"y":0.65},{"k":"r5","x":6.86,"y":0.7},{"k":"r5","x":7.21,"y":0.75},{"k":"r5","x":7.59,"y":0.8},{"k":"r5","x":8.06,"y":0.85},{"k":"r5","x":8.56,"y":0.9},{"k":"r5","x":9.26,"y":0.95},{"k":"r5","x":9.86,"y":0.975},{"k":"r5","x":10.99,"y":1},
{"k":"r6","x":0.03,"y":0},{"k":"r6","x":0.065,"y":0.025},{"k":"r6","x":0.12,"y":0.05},{"k":"r6","x":0.46,"y":0.1},{"k":"r6","x":1.1,"y":0.15},{"k":"r6","x":1.65,"y":0.2},{"k":"r6","x":2.25,"y":0.25},{"k":"r6","x":2.85,"y":0.3},{"k":"r6","x":3.55,"y":0.35},{"k":"r6","x":4.15,"y":0.4},{"k":"r6","x":4.63,"y":0.45},{"k":"r6","x":5.1,"y":0.5},{"k":"r6","x":5.61,"y":0.55},{"k":"r6","x":6.13,"y":0.6},{"k":"r6","x":6.56,"y":0.65},{"k":"r6","x":6.94,"y":0.7},{"k":"r6","x":7.29,"y":0.75},{"k":"r6","x":7.68,"y":0.8},{"k":"r6","x":8.16,"y":0.85},{"k":"r6","x":8.66,"y":0.9},{"k":"r6","x":9.36,"y":0.95},{"k":"r6","x":9.96,"y":0.975},{"k":"r6","x":11.08,"y":1},
{"k":"r7","x":0.04,"y":0},{"k":"r7","x":0.08,"y":0.025},{"k":"r7","x":0.15,"y":0.05},{"k":"r7","x":0.55,"y":0.1},{"k":"r7","x":1.3,"y":0.15},{"k":"r7","x":1.9,"y":0.2},{"k":"r7","x":2.55,"y":0.25},{"k":"r7","x":3.15,"y":0.3},{"k":"r7","x":3.85,"y":0.35},{"k":"r7","x":4.4,"y":0.4},{"k":"r7","x":4.85,"y":0.45},{"k":"r7","x":5.3,"y":0.5},{"k":"r7","x":5.8,"y":0.55},{"k":"r7","x":6.3,"y":0.6},{"k":"r7","x":6.7,"y":0.65},{"k":"r7","x":7.05,"y":0.7},{"k":"r7","x":7.4,"y":0.75},{"k":"r7","x":7.8,"y":0.8},{"k":"r7","x":8.3,"y":0.85},{"k":"r7","x":8.8,"y":0.9},{"k":"r7","x":9.5,"y":0.95},{"k":"r7","x":10.1,"y":0.975},{"k":"r7","x":11.2,"y":1},
{"k":"r8","x":0.005,"y":0},{"k":"r8","x":0.012,"y":0.025},{"k":"r8","x":0.035,"y":0.05},{"k":"r8","x":0.15,"y":0.1},{"k":"r8","x":0.4,"y":0.15},{"k":"r8","x":0.75,"y":0.2},{"k":"r8","x":1.27,"y":0.25},{"k":"r8","x":1.9,"y":0.3},{"k":"r8","x":2.64,"y":0.35},{"k":"r8","x":3.28,"y":0.4},{"k":"r8","x":3.86,"y":0.45},{"k":"r8","x":4.4,"y":0.5},{"k":"r8","x":4.95,"y":0.55},{"k":"r8","x":5.53,"y":0.6},{"k":"r8","x":6.07,"y":0.65},{"k":"r8","x":6.55,"y":0.7},{"k":"r8","x":6.9,"y":0.75},{"k":"r8","x":7.26,"y":0.8},{"k":"r8","x":7.67,"y":0.85},{"k":"r8","x":8.17,"y":0.9},{"k":"r8","x":8.87,"y":0.95},{"k":"r8","x":9.47,"y":0.975},{"k":"r8","x":10.66,"y":1},
{"k":"r9","x":0.017,"y":0},{"k":"r9","x":0.035,"y":0.025},{"k":"r9","x":0.075,"y":0.05},{"k":"r9","x":0.3,"y":0.1},{"k":"r9","x":0.72,"y":0.15},{"k":"r9","x":1.24,"y":0.2},{"k":"r9","x":1.8,"y":0.25},{"k":"r9","x":2.41,"y":0.3},{"k":"r9","x":3.1,"y":0.35},{"k":"r9","x":3.7,"y":0.4},{"k":"r9","x":4.22,"y":0.45},{"k":"r9","x":4.72,"y":0.5},{"k":"r9","x":5.25,"y":0.55},{"k":"r9","x":5.82,"y":0.6},{"k":"r9","x":6.3,"y":0.65},{"k":"r9","x":6.73,"y":0.7},{"k":"r9","x":7.08,"y":0.75},{"k":"r9","x":7.45,"y":0.8},{"k":"r9","x":7.9,"y":0.85},{"k":"r9","x":8.4,"y":0.9},{"k":"r9","x":9.1,"y":0.95},{"k":"r9","x":9.7,"y":0.975},{"k":"r9","x":10.85,"y":1},
{"k":"r10","x":0.028,"y":0},{"k":"r10","x":0.06,"y":0.025},{"k":"r10","x":0.11,"y":0.05},{"k":"r10","x":0.42,"y":0.1},{"k":"r10","x":1.02,"y":0.15},{"k":"r10","x":1.58,"y":0.2},{"k":"r10","x":2.15,"y":0.25},{"k":"r10","x":2.75,"y":0.3},{"k":"r10","x":3.45,"y":0.35},{"k":"r10","x":4.05,"y":0.4},{"k":"r10","x":4.55,"y":0.45},{"k":"r10","x":5.02,"y":0.5},{"k":"r10","x":5.54,"y":0.55},{"k":"r10","x":6.06,"y":0.6},{"k":"r10","x":6.51,"y":0.65},{"k":"r10","x":6.9,"y":0.7},{"k":"r10","x":7.25,"y":0.75},{"k":"r10","x":7.63,"y":0.8},{"k":"r10","x":8.11,"y":0.85},{"k":"r10","x":8.61,"y":0.9},{"k":"r10","x":9.31,"y":0.95},{"k":"r10","x":9.91,"y":0.975},{"k":"r10","x":11.03,"y":1},
{"k":"r11","x":0.012,"y":0},{"k":"r11","x":0.025,"y":0.025},{"k":"r11","x":0.058,"y":0.05},{"k":"r11","x":0.22,"y":0.1},{"k":"r11","x":0.58,"y":0.15},{"k":"r11","x":1.02,"y":0.2},{"k":"r11","x":1.55,"y":0.25},{"k":"r11","x":2.18,"y":0.3},{"k":"r11","x":2.88,"y":0.35},{"k":"r11","x":3.5,"y":0.4},{"k":"r11","x":4.05,"y":0.45},{"k":"r11","x":4.58,"y":0.5},{"k":"r11","x":5.1,"y":0.55},{"k":"r11","x":5.68,"y":0.6},{"k":"r11","x":6.2,"y":0.65},{"k":"r11","x":6.65,"y":0.7},{"k":"r11","x":7.0,"y":0.75},{"k":"r11","x":7.37,"y":0.8},{"k":"r11","x":7.8,"y":0.85},{"k":"r11","x":8.3,"y":0.9},{"k":"r11","x":9.0,"y":0.95},{"k":"r11","x":9.6,"y":0.975},{"k":"r11","x":10.76,"y":1},
{"k":"ro","x":0,"y":0},{"k":"ro","x":0.1,"y":0.025},{"k":"ro","x":0.16,"y":0.05},{"k":"ro","x":0.24,"y":0.07},{"k":"ro","x":0.45,"y":0.1},{"k":"ro","x":0.8,"y":0.133},{"k":"ro","x":1.1,"y":0.15},{"k":"ro","x":1.95,"y":0.2},{"k":"ro","x":2.8,"y":0.25},{"k":"ro","x":3.55,"y":0.3},{"k":"ro","x":4.15,"y":0.35},{"k":"ro","x":4.85,"y":0.4},{"k":"ro","x":5.35,"y":0.45},{"k":"ro","x":5.9,"y":0.5},{"k":"ro","x":6.5,"y":0.55},{"k":"ro","x":7.05,"y":0.6},{"k":"ro","x":7.5,"y":0.65},{"k":"ro","x":7.7,"y":0.7},{"k":"ro","x":7.97,"y":0.75},{"k":"ro","x":8.3,"y":0.8},{"k":"ro","x":8.6,"y":0.84},{"k":"ro","x":8.95,"y":0.86},{"k":"ro","x":9.17,"y":0.9},{"k":"ro","x":9.6,"y":0.95},{"k":"ro","x":10.0,"y":0.975},{"k":"ro","x":11.1,"y":1}
    ]},
     "mark": {"type": "line", "strokeWidth": 2},
     "encoding": {"color": {"datum": "Observed", "type": "nominal"}}
    },
    {"data": {"values": [
{"k":"g","x":0,"y":0},{"k":"g","x":0.02,"y":0.025},{"k":"g","x":0.06,"y":0.05},{"k":"g","x":0.2,"y":0.1},{"k":"g","x":0.42,"y":0.15},{"k":"g","x":0.8,"y":0.2},{"k":"g","x":1.5,"y":0.25},{"k":"g","x":2.25,"y":0.3},{"k":"g","x":3.1,"y":0.35},{"k":"g","x":3.65,"y":0.4},{"k":"g","x":4.18,"y":0.45},{"k":"g","x":4.68,"y":0.5},{"k":"g","x":5.25,"y":0.55},{"k":"g","x":5.8,"y":0.6},{"k":"g","x":6.38,"y":0.65},{"k":"g","x":6.8,"y":0.7},{"k":"g","x":7.13,"y":0.75},{"k":"g","x":7.39,"y":0.8},{"k":"g","x":7.82,"y":0.85},{"k":"g","x":8.4,"y":0.9},{"k":"g","x":9.2,"y":0.95},{"k":"g","x":9.8,"y":0.975},{"k":"g","x":10.5,"y":0.99},{"k":"g","x":11.1,"y":1}
    ]},
     "mark": {"type": "line", "strokeWidth": 5.5},
     "encoding": {"color": {"datum": "SRY", "type": "nominal"}}
    }
  ]
}
]
}
